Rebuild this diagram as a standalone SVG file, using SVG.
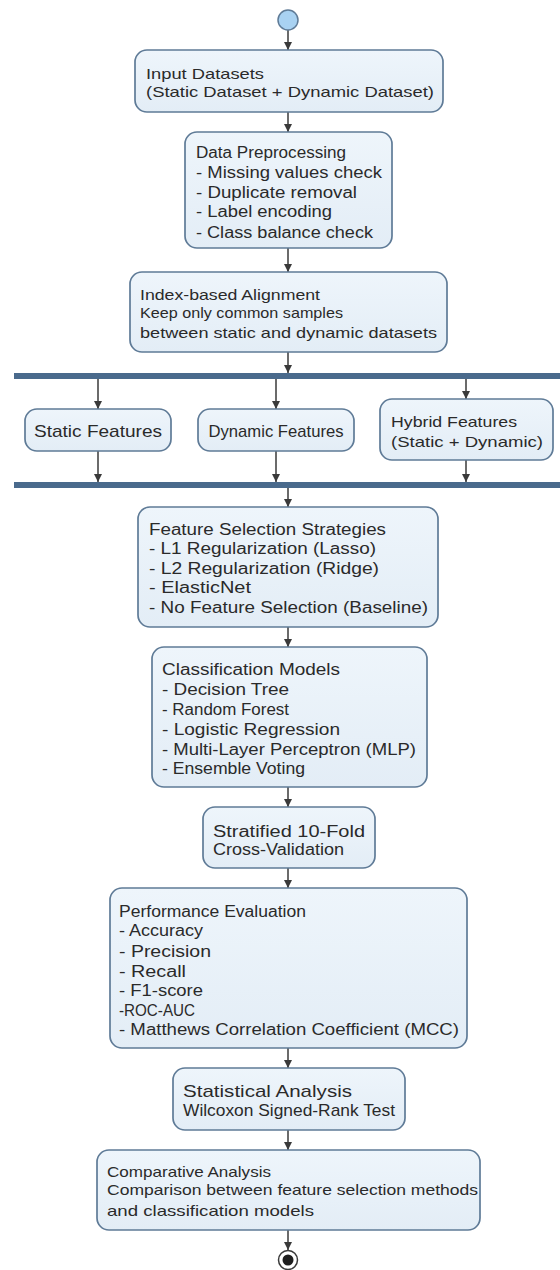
<svg xmlns="http://www.w3.org/2000/svg" width="560" height="1270" viewBox="0 0 560 1270">
<defs>
<linearGradient id="bf" x1="0" y1="0" x2="0" y2="1">
<stop offset="0" stop-color="#eef5fb"/>
<stop offset="1" stop-color="#e3edf6"/>
</linearGradient>
<marker id="ah" viewBox="0 0 10 10" refX="10" refY="5" markerWidth="8" markerHeight="8" markerUnits="userSpaceOnUse" orient="auto">
<path d="M0,0 L10,5 L0,10 z" fill="#3a3a3a"/>
</marker>
</defs>
<style>
.box{fill:url(#bf);stroke:#5f7b97;stroke-width:1.7}
.t{font-family:"Liberation Sans",Arial,sans-serif;fill:#2a2a2a}
.f15{font-size:15px}.f16{font-size:16px}.f17{font-size:17px}
.c{stroke:#3a3a3a;stroke-width:1.5;fill:none;marker-end:url(#ah)}
.bar{fill:#4a6a8c}
</style>
<rect width="560" height="1270" fill="#ffffff"/>

<g id="connectors">
<line class="c" x1="288" y1="30" x2="288" y2="50"/>
<line class="c" x1="288" y1="112" x2="288" y2="132"/>
<line class="c" x1="288" y1="248" x2="288" y2="272"/>
<line class="c" x1="288" y1="352" x2="288" y2="373"/>
<line class="c" x1="98" y1="379" x2="98" y2="409"/>
<line class="c" x1="276" y1="379" x2="276" y2="409"/>
<line class="c" x1="466" y1="379" x2="466" y2="399"/>
<line class="c" x1="98" y1="451" x2="98" y2="482"/>
<line class="c" x1="276" y1="451" x2="276" y2="482"/>
<line class="c" x1="466" y1="460" x2="466" y2="482"/>
<line class="c" x1="288" y1="488" x2="288" y2="507"/>
<line class="c" x1="288" y1="627" x2="288" y2="647"/>
<line class="c" x1="288" y1="787" x2="288" y2="807"/>
<line class="c" x1="288" y1="868" x2="288" y2="888"/>
<line class="c" x1="288" y1="1048" x2="288" y2="1068"/>
<line class="c" x1="288" y1="1130" x2="288" y2="1150"/>
<line class="c" x1="288" y1="1230" x2="288" y2="1250"/>
</g>

<g id="start">
<circle cx="288" cy="20" r="10" fill="#a9d2f2" stroke="#5f7b97" stroke-width="1.5"/>
</g>

<g id="input">
<rect class="box" x="135" y="50" width="308" height="62" rx="12"/>
<text class="t f15" x="146" y="79" textLength="118" lengthAdjust="spacingAndGlyphs">Input Datasets</text>
<text class="t f15" x="146" y="97" textLength="288" lengthAdjust="spacingAndGlyphs">(Static Dataset + Dynamic Dataset)</text>
</g>

<g id="preprocessing">
<rect class="box" x="185" y="132" width="207" height="116" rx="12"/>
<text class="t f16" x="196" y="158" textLength="150" lengthAdjust="spacingAndGlyphs">Data Preprocessing</text>
<text class="t f16" x="196" y="178" textLength="186" lengthAdjust="spacingAndGlyphs">- Missing values check</text>
<text class="t f16" x="196" y="198" textLength="161" lengthAdjust="spacingAndGlyphs">- Duplicate removal</text>
<text class="t f16" x="196" y="217" textLength="136" lengthAdjust="spacingAndGlyphs">- Label encoding</text>
<text class="t f16" x="196" y="238" textLength="177" lengthAdjust="spacingAndGlyphs">- Class balance check</text>
</g>

<g id="alignment">
<rect class="box" x="130" y="272" width="317" height="80" rx="12"/>
<text class="t f15" x="140" y="300" textLength="180" lengthAdjust="spacingAndGlyphs">Index-based Alignment</text>
<text class="t f15" x="140" y="318" textLength="203" lengthAdjust="spacingAndGlyphs">Keep only common samples</text>
<text class="t f15" x="140" y="338" textLength="297" lengthAdjust="spacingAndGlyphs">between static and dynamic datasets</text>
</g>

<g id="fork">
<rect class="bar" x="14" y="373" width="546" height="6"/>
</g>

<g id="static">
<rect class="box" x="25" y="409" width="146" height="42" rx="12"/>
<text class="t f17" x="98" y="437" text-anchor="middle" textLength="128" lengthAdjust="spacingAndGlyphs">Static Features</text>
</g>

<g id="dynamic">
<rect class="box" x="198" y="409" width="156" height="42" rx="12"/>
<text class="t f17" x="276" y="437" text-anchor="middle" textLength="135" lengthAdjust="spacingAndGlyphs">Dynamic Features</text>
</g>

<g id="hybrid">
<rect class="box" x="380" y="399" width="173" height="61" rx="12"/>
<text class="t f15" x="391" y="427" textLength="126" lengthAdjust="spacingAndGlyphs">Hybrid Features</text>
<text class="t f15" x="391" y="447" textLength="152" lengthAdjust="spacingAndGlyphs">(Static + Dynamic)</text>
</g>

<g id="join">
<rect class="bar" x="14" y="482" width="546" height="6"/>
</g>

<g id="feature-selection">
<rect class="box" x="138" y="507" width="300" height="120" rx="12"/>
<text class="t f16" x="149" y="535" textLength="237" lengthAdjust="spacingAndGlyphs">Feature Selection Strategies</text>
<text class="t f16" x="149" y="554" textLength="227" lengthAdjust="spacingAndGlyphs">- L1 Regularization (Lasso)</text>
<text class="t f16" x="149" y="574" textLength="230" lengthAdjust="spacingAndGlyphs">- L2 Regularization (Ridge)</text>
<text class="t f16" x="149" y="593" textLength="102" lengthAdjust="spacingAndGlyphs">- ElasticNet</text>
<text class="t f16" x="149" y="613" textLength="279" lengthAdjust="spacingAndGlyphs">- No Feature Selection (Baseline)</text>
</g>

<g id="classification">
<rect class="box" x="152" y="647" width="275" height="140" rx="12"/>
<text class="t f16" x="162" y="675" textLength="178" lengthAdjust="spacingAndGlyphs">Classification Models</text>
<text class="t f16" x="162" y="695" textLength="127" lengthAdjust="spacingAndGlyphs">- Decision Tree</text>
<text class="t f16" x="162" y="715" textLength="127" lengthAdjust="spacingAndGlyphs">- Random Forest</text>
<text class="t f16" x="162" y="735" textLength="178" lengthAdjust="spacingAndGlyphs">- Logistic Regression</text>
<text class="t f16" x="162" y="755" textLength="254" lengthAdjust="spacingAndGlyphs">- Multi-Layer Perceptron (MLP)</text>
<text class="t f16" x="162" y="774" textLength="143" lengthAdjust="spacingAndGlyphs">- Ensemble Voting</text>
</g>

<g id="cross-validation">
<rect class="box" x="203" y="807" width="172" height="61" rx="12"/>
<text class="t f16" x="213" y="837" textLength="152" lengthAdjust="spacingAndGlyphs">Stratified 10-Fold</text>
<text class="t f16" x="213" y="855" textLength="131" lengthAdjust="spacingAndGlyphs">Cross-Validation</text>
</g>

<g id="evaluation">
<rect class="box" x="110" y="888" width="357" height="160" rx="12"/>
<text class="t f16" x="119" y="917" textLength="187" lengthAdjust="spacingAndGlyphs">Performance Evaluation</text>
<text class="t f16" x="119" y="936" textLength="84" lengthAdjust="spacingAndGlyphs">- Accuracy</text>
<text class="t f16" x="119" y="957" textLength="92" lengthAdjust="spacingAndGlyphs">- Precision</text>
<text class="t f16" x="119" y="977" textLength="67" lengthAdjust="spacingAndGlyphs">- Recall</text>
<text class="t f16" x="119" y="996" textLength="84" lengthAdjust="spacingAndGlyphs">- F1-score</text>
<text class="t f16" x="119" y="1016" textLength="76" lengthAdjust="spacingAndGlyphs">-ROC-AUC</text>
<text class="t f16" x="119" y="1035" textLength="340" lengthAdjust="spacingAndGlyphs">- Matthews Correlation Coefficient (MCC)</text>
</g>

<g id="statistical">
<rect class="box" x="173" y="1068" width="232" height="62" rx="12"/>
<text class="t f17" x="183" y="1097" textLength="169" lengthAdjust="spacingAndGlyphs">Statistical Analysis</text>
<text class="t f17" x="183" y="1116" textLength="212" lengthAdjust="spacingAndGlyphs">Wilcoxon Signed-Rank Test</text>
</g>

<g id="comparative">
<rect class="box" x="97" y="1150" width="383" height="80" rx="12"/>
<text class="t f15" x="107" y="1177" textLength="164" lengthAdjust="spacingAndGlyphs">Comparative Analysis</text>
<text class="t f15" x="107" y="1195" textLength="371" lengthAdjust="spacingAndGlyphs">Comparison between feature selection methods</text>
<text class="t f15" x="107" y="1216" textLength="207" lengthAdjust="spacingAndGlyphs">and classification models</text>
</g>

<g id="end">
<circle cx="288" cy="1260" r="9.5" fill="#ffffff" stroke="#3a3a3a" stroke-width="1.5"/>
<circle cx="288" cy="1260" r="5.5" fill="#1e1e1e"/>
</g>
</svg>
